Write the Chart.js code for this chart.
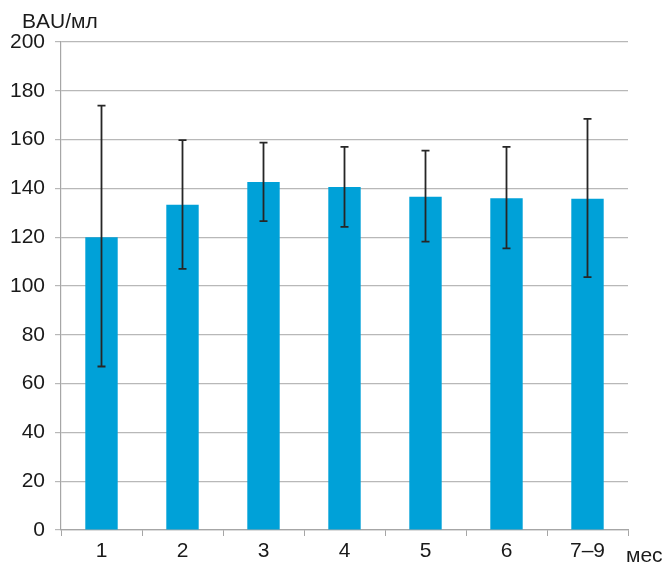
<!DOCTYPE html>
<html><head><meta charset="utf-8">
<script src="https://cdn.jsdelivr.net/npm/chart.js@4/dist/chart.umd.min.js"></script>
<style>html,body{margin:0;padding:0;background:#fff}#wrap{width:665px;height:565px}</style>
</head><body><div id="wrap"><canvas id="c" width="665" height="565"></canvas></div>
<script>
const categories = ['1','2','3','4','5','6','7–9'];
const means = [120, 133.3, 142.6, 140.6, 136.6, 136, 135.8];
const errHigh = [173.9, 159.8, 158.8, 157, 155.5, 157, 168.5];
const errLow = [67, 107, 126.6, 124.2, 118.2, 115.4, 103.6];
const yTicks = [0,20,40,60,80,100,120,140,160,180,200];
const yUnit = 'BAU/мл';
const xUnit = 'мес';

const FONT = 'Liberation Sans, Arial, sans-serif';
const TXT = '#1a1a1a';

const errorBars = {
  id: 'errorBars',
  afterDatasetsDraw(chart) {
    const ctx = chart.ctx, ys = chart.scales.y;
    const meta = chart.getDatasetMeta(0);
    ctx.save();
    ctx.strokeStyle = '#262626';
    ctx.lineWidth = 1.8;
    meta.data.forEach((bar, i) => {
      const x = bar.x;
      const yh = ys.getPixelForValue(errHigh[i]);
      const yl = ys.getPixelForValue(errLow[i]);
      ctx.beginPath();
      ctx.moveTo(x, yh); ctx.lineTo(x, yl);
      ctx.moveTo(x - 4, yh); ctx.lineTo(x + 4, yh);
      ctx.moveTo(x - 4, yl); ctx.lineTo(x + 4, yl);
      ctx.stroke();
    });
    ctx.restore();
  }
};
const unitLabels = {
  id: 'unitLabels',
  afterDraw(chart) {
    const ctx = chart.ctx;
    ctx.save();
    ctx.fillStyle = TXT;
    ctx.font = '21px ' + FONT;
    ctx.textBaseline = 'alphabetic';
    ctx.textAlign = 'left';
    ctx.fillText(yUnit, 22, 28);
    ctx.fillText(xUnit, 626, 562);
    ctx.restore();
  }
};

new Chart(document.getElementById('c'), {
  type: 'bar',
  data: {
    labels: categories,
    datasets: [{
      data: means,
      backgroundColor: '#00A1D8',
      borderWidth: 0,
      categoryPercentage: 1,
      barPercentage: 0.4
    }]
  },
  options: {
    responsive: false,
    animation: false,
    layout: { padding: { top: 42, right: 37, left: 0, bottom: 0 } },
    plugins: { legend: { display: false }, tooltip: { enabled: false } },
    scales: {
      x: {
        grid: { display: true, drawOnChartArea: false, color: '#a6a6a6', tickLength: 6, offset: true },
        border: { color: '#a6a6a6', width: 1.2 },
        ticks: { color: TXT, font: { family: FONT, size: 21 }, padding: 3, maxRotation: 0 },
        afterFit(s) { s.height = 35; }
      },
      y: {
        min: 0, max: 200,
        afterBuildTicks(s) { s.ticks = yTicks.map(v => ({ value: v })); },
        grid: { color: '#b8b8b8', lineWidth: 1.2, tickLength: 6 },
        border: { color: '#a6a6a6', width: 1.2 },
        ticks: { color: TXT, font: { family: FONT, size: 21 }, padding: 10 },
        afterFit(s) { s.width = 61; }
      }
    }
  },
  plugins: [errorBars, unitLabels]
});
</script>
</body></html>
